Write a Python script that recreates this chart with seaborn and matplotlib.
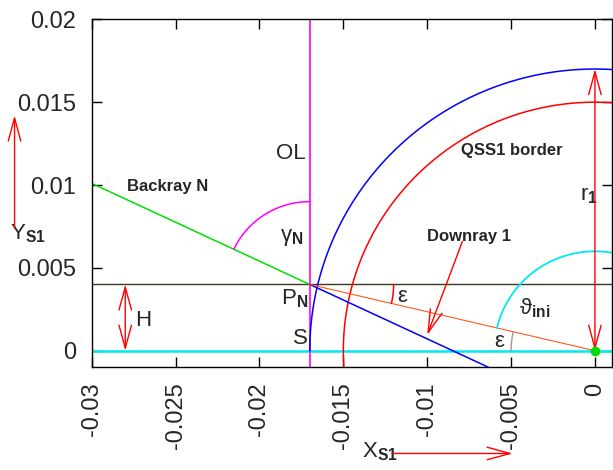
import numpy as np
import pandas as pd
import matplotlib
matplotlib.use("Agg")
import matplotlib.pyplot as plt
from matplotlib.patches import FancyArrowPatch, ArrowStyle
import seaborn as sns

# --- axes ticks -------------------------------------------------------------
x_ticks = [-0.03, -0.025, -0.02, -0.015, -0.01, -0.005, 0.0]
x_tick_labels = ["-0.03", "-0.025", "-0.02", "-0.015", "-0.01", "-0.005", "0"]
y_ticks = [0.0, 0.005, 0.01, 0.015, 0.02]
y_tick_labels = ["0", "0.005", "0.01", "0.015", "0.02"]
x_limits = [-0.03, 0.001]
y_limits = [-0.001, 0.02]

# --- construction in the S1 frame ------------------------------------------
r_1 = 0.017                    # outer circle (blue), radius r1
r_qss = 0.015                  # QSS1 border (red circle)
x_ol = -0.017                  # OL line
h = 0.004                      # height H of P_N above the axis
p_n = (-0.017, 0.004)          # point P_N
backray_start = (-0.03, 0.0101)
r_theta = 0.006                # radius of the theta_ini arc
r_eps = 0.005                  # radius of the epsilon arcs
r_gamma = 0.005                # radius of the gamma_N arc

# --- annotation arrows ------------------------------------------------------
downray_arrow = [(-0.0079, 0.0066), (-0.0100, 0.00095)]
y_axis_arrow = [(-0.0346, 0.0074), (-0.0346, 0.0142)]
x_axis_arrow = [(-0.0121, -0.0062), (-0.0049, -0.0062)]
h_arrow_x = -0.028

sns.set_theme(style="ticks")
plt.rcParams["font.family"] = ["Liberation Sans", "DejaVu Sans"]
plt.rcParams["mathtext.fontset"] = "custom"
plt.rcParams["mathtext.rm"] = "Liberation Sans"
plt.rcParams["mathtext.it"] = "Liberation Sans:italic"
plt.rcParams["mathtext.bf"] = "Liberation Sans:bold"
plt.rcParams["mathtext.fallback"] = "stixsans"

fig = plt.figure(figsize=(6.13, 4.70), dpi=100)
ax = fig.add_axes([0.1496, 0.2185, 0.8483, 0.7404])
ax.set_xlim(*x_limits)
ax.set_ylim(*y_limits)


def arc(cx, cy, r, a0, a1, n=200):
    t = np.radians(np.linspace(a0, a1, n))
    return pd.DataFrame({"x": cx + r * np.cos(t), "y": cy + r * np.sin(t)})


def seg(p0, p1):
    return pd.DataFrame({"x": [p0[0], p1[0]], "y": [p0[1], p1[1]]})


def draw(df, color, lw, z=2):
    sns.lineplot(data=df, x="x", y="y", sort=False, estimator=None,
                 color=color, lw=lw, ax=ax, zorder=z)


eps = np.degrees(np.arctan2(h, -p_n[0]))
back_dir = np.degrees(np.arctan2(backray_start[1] - p_n[1], backray_start[0] - p_n[0]))
slope = (backray_start[1] - p_n[1]) / (backray_start[0] - p_n[0])
blue_end = (p_n[0] + (y_limits[0] - p_n[1]) / slope, y_limits[0])

# reference lines
draw(seg((x_limits[0], 0), (x_limits[1], 0)), "#00e8f0", 1.8)
draw(seg((x_limits[0], h), (x_limits[1], h)), "#3a3a1c", 1.0)
draw(seg((x_ol, y_limits[0]), (x_ol, y_limits[1])), "#ff00ff", 1.2)

# circles
draw(arc(0, 0, r_1, 80, 180), "#0000ff", 1.1)
draw(arc(0, 0, r_qss, 80, 185), "#ff0000", 1.1)

# rays
draw(seg(backray_start, p_n), "#00e000", 1.1)
draw(seg(p_n, blue_end), "#0000ff", 1.1)
draw(seg(p_n, (0, 0)), "#ff5a1e", 0.8)

# angle arcs
draw(arc(0, 0, r_theta, 80, 180 - eps), "#00e8f0", 1.3)
draw(arc(0, 0, r_eps, 180 - eps, 180), "#a0a0a0", 1.1)
draw(arc(p_n[0], p_n[1], r_eps, 0, -eps), "#ff0000", 1.1)
draw(arc(p_n[0], p_n[1], r_gamma, 90, back_dir), "#ff00ff", 1.1)

ax.plot([0], [0], marker="o", ms=6, color="#00dd00", zorder=5, clip_on=False)


def arrow(p0, p1, both=False):
    style = ArrowStyle("<->" if both else "->", head_length=16.5, head_width=4.5)
    ax.add_patch(FancyArrowPatch(p0, p1, arrowstyle=style, mutation_scale=1,
                                 color="red", lw=1.0, shrinkA=0, shrinkB=0,
                                 clip_on=False, zorder=4))


arrow((h_arrow_x, 0), (h_arrow_x, h), both=True)
arrow((0, 0), (0, r_1), both=True)
arrow(*downray_arrow)
arrow(*y_axis_arrow)
arrow(*x_axis_arrow)

# labels
fs = 16
ax.text(-0.0190, 0.0119, "OL", fontsize=fs, ha="left", va="center")
ax.text(-0.0279, 0.0099, "Backray N", fontsize=12, fontweight="bold", ha="left", va="center")
ax.text(-0.0080, 0.0121, "QSS1 border", fontsize=12, fontweight="bold", ha="left", va="center")
ax.text(-0.0100, 0.0069, "Downray 1", fontsize=12, fontweight="bold", ha="left", va="center")
ax.text(-0.0009, 0.0091, r"$\mathrm{r}_{\mathbf{1}}$", fontsize=fs, ha="left", va="baseline")
ax.text(-0.0118, 0.0033, "ε", fontsize=fs, ha="left", va="center")
ax.text(-0.0060, 0.00054, "ε", fontsize=fs, ha="left", va="center")
ax.text(-0.0045, 0.0022, r"$\mathrm{\vartheta}_{\mathbf{ini}}$", fontsize=fs, ha="left", va="baseline")
ax.text(-0.0188, 0.0066, r"$\mathrm{\gamma}_{\mathbf{N}}$", fontsize=fs, ha="left", va="baseline")
ax.text(-0.0187, 0.0028, r"$\mathrm{P}_{\mathbf{N}}$", fontsize=fs, ha="left", va="baseline")
ax.text(-0.0180, 0.0004, "S", fontsize=fs, ha="left", va="baseline")
ax.text(-0.0274, 0.0015, "H", fontsize=fs, ha="left", va="baseline")
ax.text(-0.0349, 0.0067, r"$\mathrm{Y}_{\mathbf{S1}}$", fontsize=fs, ha="left", va="baseline")
ax.text(-0.0139, -0.00645, r"$\mathrm{X}_{\mathbf{S1}}$", fontsize=fs, ha="left", va="baseline")

# axes styling
tick_fs = 17
ax.set_xticks(x_ticks)
ax.set_xticklabels(x_tick_labels, rotation=90, fontsize=tick_fs)
ax.set_yticks(y_ticks)
ax.set_yticklabels(y_tick_labels, fontsize=tick_fs)
ax.tick_params(direction="in", length=7.5, width=1.0, top=True, right=True,
               color="black", pad=11)
ax.set_xlabel("")
ax.set_ylabel("")
for s in ax.spines.values():
    s.set_visible(True)
    s.set_color("black")
    s.set_linewidth(1.0)
ax.set_facecolor("white")
ax.grid(False)

fig.savefig("out.png", dpi=100)
